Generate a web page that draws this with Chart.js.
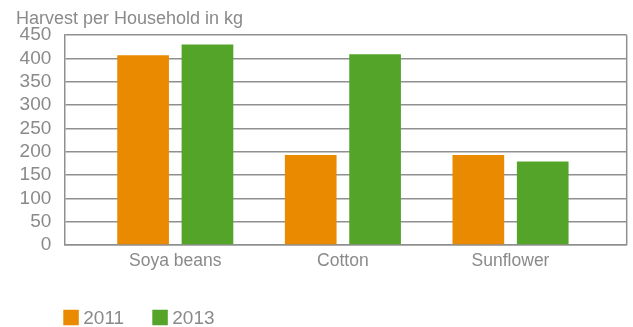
<!DOCTYPE html>
<html>
<head>
<meta charset="utf-8">
<script src="https://cdn.jsdelivr.net/npm/chart.js@4/dist/chart.umd.min.js"></script>
<style>
  html, body { margin: 0; padding: 0; background: #ffffff; }
  #wrap { width: 633px; height: 327px; position: relative; }
</style>
</head>
<body>
<div id="wrap"><canvas id="harvest"></canvas></div>
<script>
// Crops and average harvest per household (kg)
const categories = ['Soya beans', 'Cotton', 'Sunflower'];
const harvest2011 = [407, 193, 193];
const harvest2013 = [430, 409, 179];
const seriesNames = ['2011', '2013'];
const yTicks = [0, 50, 100, 150, 200, 250, 300, 350, 400, 450];

const ORANGE = '#ea8a00';
const GREEN = '#55a42a';
const TEXT = '#8a8a8a';
const GRID = '#8f8f8f';
const FONT = "'Liberation Sans', Arial, sans-serif";

// Categories sit on a numeric axis at 1, 2, 3 so the group spacing can be set freely
const toPoints = vals => vals.map((v, i) => ({ x: i + 1, y: v }));

// Closes the plot box on the right-hand side
const plotFrame = {
  id: 'plotFrame',
  afterDatasetsDraw(chart) {
    const { ctx, chartArea: a } = chart;
    ctx.save();
    ctx.strokeStyle = GRID;
    ctx.lineWidth = 1.5;
    ctx.beginPath();
    ctx.moveTo(a.right, a.top);
    ctx.lineTo(a.right, a.bottom);
    ctx.stroke();
    ctx.restore();
  }
};

// Series key under the axis, aligned with the plot's left edge
const seriesKey = {
  id: 'seriesKey',
  afterDraw(chart) {
    const { ctx, chartArea: a } = chart;
    const box = 15.5, gap = 4.5, step = 89;
    const cy = a.bottom + 72.5;
    ctx.save();
    ctx.font = '19px ' + FONT;
    ctx.textBaseline = 'middle';
    ctx.textAlign = 'left';
    chart.data.datasets.forEach((ds, i) => {
      const x = a.left - 1 + i * step;
      ctx.fillStyle = ds.backgroundColor;
      ctx.fillRect(x, cy - box / 2, box, box);
      ctx.fillStyle = TEXT;
      ctx.fillText(ds.label, x + box + gap, cy + 1);
    });
    ctx.restore();
  }
};

new Chart(document.getElementById('harvest'), {
  type: 'bar',
  data: {
    datasets: [
      { label: seriesNames[0], data: toPoints(harvest2011), backgroundColor: ORANGE, borderWidth: 0 },
      { label: seriesNames[1], data: toPoints(harvest2013), backgroundColor: GREEN, borderWidth: 0 }
    ]
  },
  options: {
    responsive: true,
    maintainAspectRatio: false,
    animation: false,
    events: [],
    layout: { padding: { left: 16, right: 6.3, top: 0, bottom: 49 } },
    datasets: {
      bar: { categoryPercentage: 0.768, barPercentage: 0.803, grouped: true }
    },
    plugins: {
      legend: { display: false },
      tooltip: { enabled: false },
      title: {
        display: true,
        text: 'Harvest per Household in kg',
        align: 'start',
        color: TEXT,
        font: { family: FONT, size: 18, weight: 'normal' },
        padding: { top: 8.5, bottom: 5 }
      }
    },
    scales: {
      x: {
        type: 'linear',
        offset: false,
        min: 0.338,
        max: 3.693,
        afterBuildTicks(scale) {
          scale.ticks = categories.map((_, i) => ({ value: i + 1 }));
        },
        grid: { display: false, drawTicks: false },
        border: { display: true, color: GRID, width: 1.5 },
        ticks: {
          autoSkip: false,
          maxRotation: 0,
          padding: 6,
          color: TEXT,
          font: { family: FONT, size: 17.5 },
          callback: v => categories[v - 1] ?? ''
        }
      },
      y: {
        min: yTicks[0],
        max: yTicks[yTicks.length - 1],
        afterBuildTicks(scale) {
          scale.ticks = yTicks.map(v => ({ value: v }));
        },
        afterFit(scale) { scale.width = 48.3; },
        grid: { color: GRID, lineWidth: 1.5, drawTicks: false },
        border: { display: true, color: GRID, width: 1.5 },
        ticks: {
          autoSkip: false,
          padding: 13,
          color: TEXT,
          font: { family: FONT, size: 19 }
        }
      }
    }
  },
  plugins: [plotFrame, seriesKey]
});
</script>
</body>
</html>
